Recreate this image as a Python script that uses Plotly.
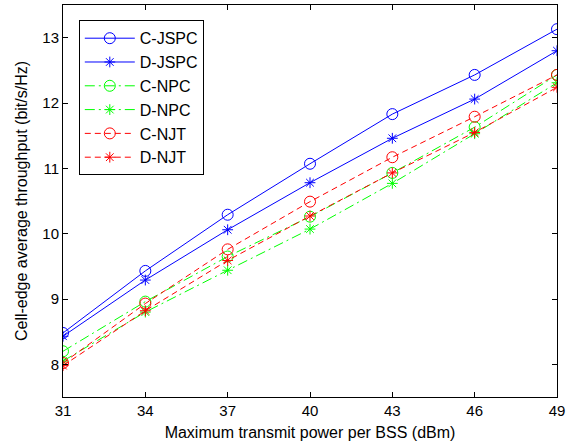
import plotly.graph_objects as go

x_power = [31, 34, 37, 40, 43, 46, 49]
c_jspc = [8.48, 9.43, 10.29, 11.07, 11.83, 12.43, 13.13]
d_jspc = [8.43, 9.29, 10.06, 10.78, 11.46, 12.06, 12.80]
c_npc = [8.20, 8.96, 9.65, 10.26, 10.93, 11.63, 12.43]
d_npc = [8.05, 8.80, 9.44, 10.07, 10.77, 11.53, 12.31]
c_njt = [8.02, 8.93, 9.76, 10.49, 11.17, 11.79, 12.43]
d_njt = [7.98, 8.82, 9.59, 10.27, 10.93, 11.55, 12.24]

series = [
    ("C-JSPC", c_jspc, "#0000FF", "solid", "circle-open"),
    ("D-JSPC", d_jspc, "#0000FF", "solid", "asterisk-open"),
    ("C-NPC", c_npc, "#00FF00", "10px,4px,2px,4px", "circle-open"),
    ("D-NPC", d_npc, "#00FF00", "10px,4px,2px,4px", "asterisk-open"),
    ("C-NJT", c_njt, "#FF0000", "6px,4px", "circle-open"),
    ("D-NJT", d_njt, "#FF0000", "6px,4px", "asterisk-open"),
]

FONT = "Liberation Sans, Arial"

fig = go.Figure()
for name, ys, color, dash, sym in series:
    fig.add_trace(go.Scatter(
        x=x_power, y=ys, name=name, mode="lines+markers",
        line=dict(color=color, width=1, dash=dash),
        marker=dict(symbol=sym, size=11 if "circle" in sym else 9,
                    color=color, line=dict(color=color, width=1)),
    ))

axis_common = dict(
    showline=True, linecolor="black", linewidth=1, mirror="ticks",
    ticks="inside", ticklen=5, tickcolor="black", showgrid=False,
    zeroline=False, automargin=False,
    tickfont=dict(family=FONT, size=15, color="black"),
)
fig.update_xaxes(range=[31, 49], tickvals=x_power,
                 title=dict(text="Maximum transmit power per BSS (dBm)",
                            font=dict(family=FONT, size=16, color="black"),
                            standoff=8),
                 **axis_common)
fig.update_yaxes(range=[7.5, 13.5], tickvals=[8, 9, 10, 11, 12, 13],
                 title=dict(text="Cell-edge average throughput (bit/s/Hz)",
                            font=dict(family=FONT, size=16, color="black"),
                            standoff=10),
                 **axis_common)

fig.update_layout(
    width=584, height=448,
    margin=dict(l=63, r=27, t=5, b=51, autoexpand=False),
    paper_bgcolor="white", plot_bgcolor="white",
    showlegend=True,
    legend=dict(x=0.032, y=0.961, xanchor="left", yanchor="top",
                bgcolor="white", bordercolor="black", borderwidth=1,
                font=dict(family=FONT, size=16, color="black"),
                tracegroupgap=0, itemwidth=50),
)

fig.write_html("out.html",
               config={"displayModeBar": False},
               post_script="document.body.style.margin='0px';document.body.style.overflow='hidden';")
